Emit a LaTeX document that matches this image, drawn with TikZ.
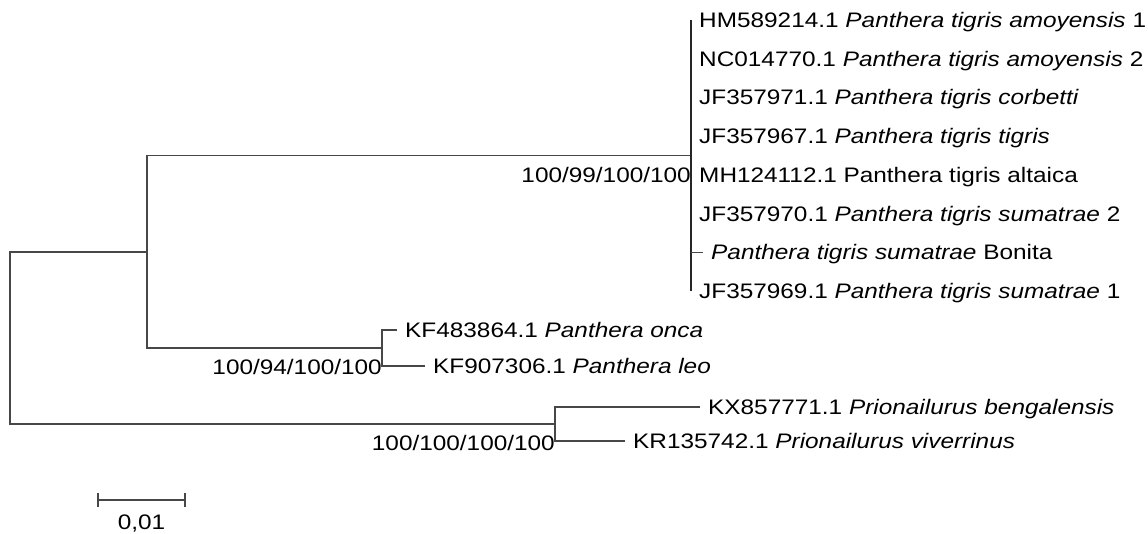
\documentclass[tikz,border=0pt]{standalone}
\usepackage{fontspec}
\setmainfont{Liberation Sans}[FakeStretch=1.16]
\begin{document}
\begin{tikzpicture}[x=1pt,y=-1pt,
  br/.style={draw=black!72, line width=1.2pt},
  lf/.style={anchor=west, inner sep=0pt, text height=15pt, text depth=0pt, xshift=8pt},
  bs/.style={anchor=east, inner sep=0pt, text height=15pt, text depth=0pt, yshift=-19pt},
  every node/.style={font=\fontsize{21}{25}\selectfont}]
\useasboundingbox (0,0) rectangle (1148,533);
% internal nodes
\coordinate (r) at (10,338);
\coordinate (n1) at (147,252);
\coordinate (nT) at (691,155.5);
\coordinate (nOL) at (382,348);
\coordinate (nP) at (555,424);
% tips
\coordinate (t1) at (691,20);
\coordinate (t2) at (691,58.7);
\coordinate (t3) at (691,97.4);
\coordinate (t4) at (691,136.1);
\coordinate (t5) at (691,174.8);
\coordinate (t6) at (691,213.5);
\coordinate (t7) at (703,252.2);
\coordinate (t8) at (691,290.9);
\coordinate (tO) at (397,330);
\coordinate (tL) at (425,366);
\coordinate (tB) at (700,407);
\coordinate (tV) at (625,441);
% branches
\draw[br] (r) |- (n1);
\draw[br] (r) |- (nP);
\draw[br] (n1) |- (nT);
\draw[br] (n1) |- (nOL);
\draw[br, draw=black!85] (t1) -- (t8);
\draw[br] (t7 -| nT) -- (t7);
\draw[br] (nOL) |- (tO);
\draw[br] (nOL) |- (tL);
\draw[br] (nP) |- (tB);
\draw[br] (nP) |- (tV);
% leaf labels
\node[lf] (l1) at (t1) {HM589214.1 \textit{Panthera tigris amoyensis} 1};
\node[lf] (l2) at (t2) {NC014770.1 \textit{Panthera tigris amoyensis} 2};
\node[lf] (l3) at (t3) {JF357971.1 \textit{Panthera tigris corbetti}};
\node[lf] (l4) at (t4) {JF357967.1 \textit{Panthera tigris tigris}};
\node[lf] (l5) at (t5) {MH124112.1 Panthera tigris altaica};
\node[lf] (l6) at (t6) {JF357970.1 \textit{Panthera tigris sumatrae} 2};
\node[lf] (l7) at (t7) {\textit{Panthera tigris sumatrae} Bonita};
\node[lf] (l8) at (t8) {JF357969.1 \textit{Panthera tigris sumatrae} 1};
\node[lf] (lO) at (tO) {KF483864.1 \textit{Panthera onca}};
\node[lf] (lL) at (tL) {KF907306.1 \textit{Panthera leo}};
\node[lf] (lB) at (tB) {KX857771.1 \textit{Prionailurus bengalensis}};
\node[lf] (lV) at (tV) {KR135742.1 \textit{Prionailurus viverrinus}};
% bootstrap labels
\node[bs] (bT) at (nT) {100/99/100/100};
\node[bs] (bOL) at (nOL) {100/94/100/100};
\node[bs] (bP) at (nP) {100/100/100/100};
% scale bar
\coordinate (s1) at (98,500);
\coordinate (s2) at (185,500);
\draw[br] (s1) -- (s2);
\draw[br] ([yshift=7pt]s1) -- ([yshift=-7pt]s1);
\draw[br] ([yshift=7pt]s2) -- ([yshift=-7pt]s2);
\node[inner sep=0pt, text height=15pt, text depth=0pt] (sl) at (141.5,522) {0,01};
\end{tikzpicture}
\end{document}
